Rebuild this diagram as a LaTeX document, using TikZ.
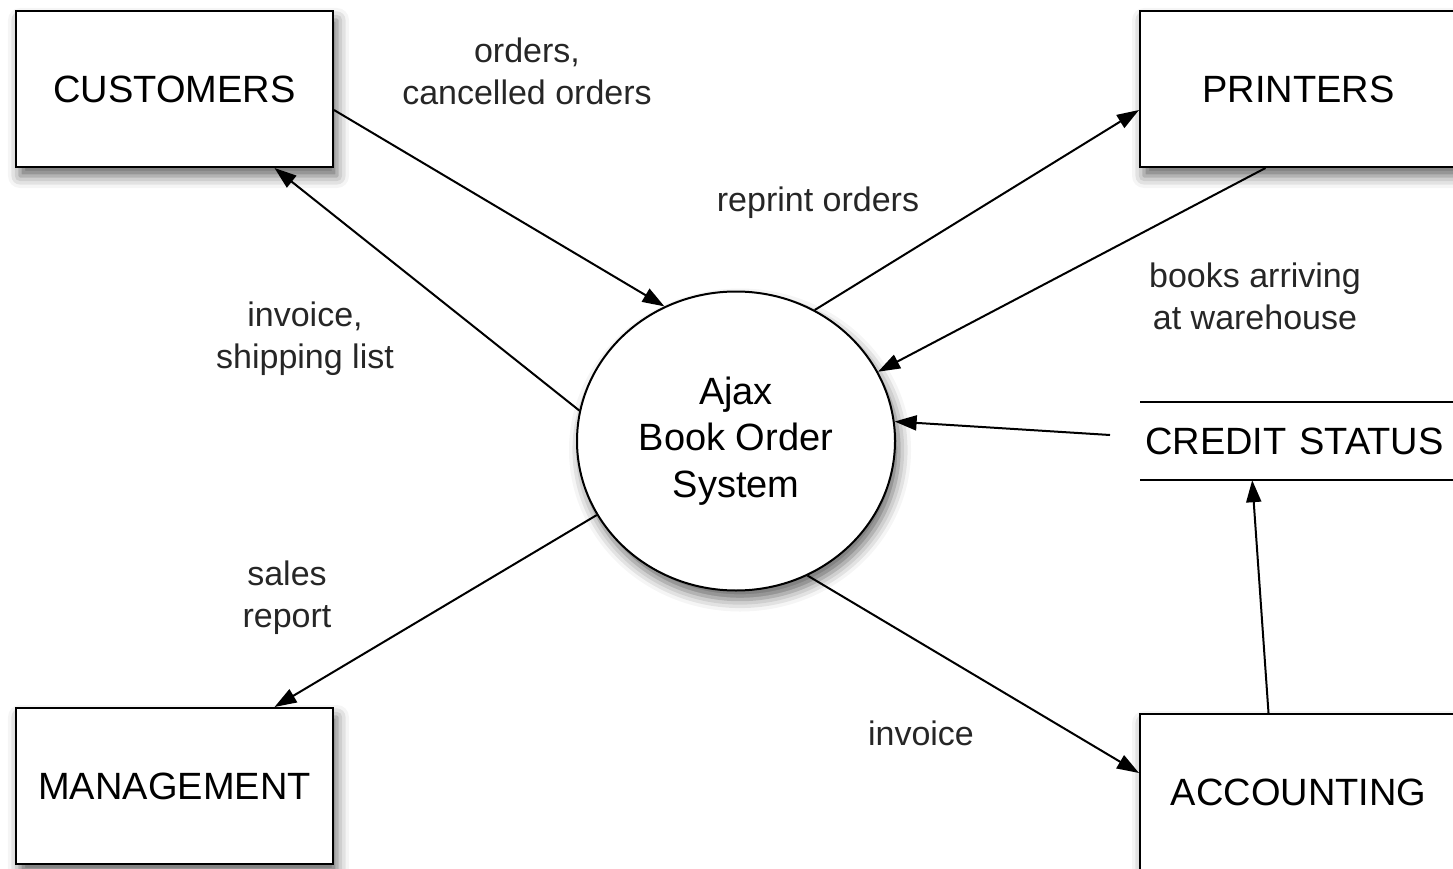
\documentclass[tikz,border=0pt]{standalone}
\usepackage{fontspec}
\setmainfont{Liberation Sans}
\usetikzlibrary{arrows.meta,shadows.blur,calc,shapes.geometric}
\begin{document}
\begin{tikzpicture}[x=1pt,y=-1pt,
  shad/.style={blur shadow={shadow xshift=4pt, shadow yshift=-9pt, shadow blur radius=12pt, shadow opacity=60}},
  entity/.style={draw, line width=2pt, fill=white, minimum width=317pt, minimum height=156pt,
    inner sep=0pt, font=\fontsize{38}{44}\selectfont, shad},
  proc/.style={draw, ellipse, line width=2pt, fill=white, minimum width=318pt, minimum height=299pt, inner sep=0pt,
    align=center, font=\fontsize{38}{46.5}\selectfont, shad},
  store/.style={minimum height=78pt, text width=310pt, inner xsep=5pt, inner ysep=0pt, align=left,
    font=\fontsize{38}{44}\selectfont},
  flow/.style={line width=2pt, -{Triangle[length=22pt,width=15pt]}},
  lbl/.style={font=\fontsize{34}{42}\selectfont, align=center, text=black!85}
]
\useasboundingbox (0,0) rectangle (1453,869);
\node[entity] (cust) at (174.5,89) {CUSTOMERS};
\node[entity] (prn) at (1298.5,89) {PRINTERS};
\node[entity] (mgmt) at (174.5,786) {MANAGEMENT};
\node[entity] (acct) at (1298.5,792) {ACCOUNTING};
\node[proc] (sys) at (736,441) {Ajax\\Book Order\\System};
\node[store, anchor=west] (cs) at (1140,441) {CREDIT STATUS};
\draw[line width=2pt] (cs.north west) -- (cs.north east);
\draw[line width=2pt] (cs.south west) -- (cs.south east);

\draw[flow] ($(cust.east)+(0,21)$) -- (sys.118);
\draw[flow] (sys.169) -- ($(cust.south)+(100,0)$);
\draw[flow] (sys.59) -- ($(prn.west)+(0,21)$);
\draw[flow] ($(prn.south)+(-33,0)$) -- (sys.26);
\draw[flow] ($(cs.west)+(-30,-6)$) -- (sys.7);
\draw[flow] (sys.208) -- ($(mgmt.north)+(100,0)$);
\draw[flow] (sys.298) -- ($(acct.west)+(0,-19)$);
\draw[flow] ($(acct.north)+(-30,0)$) -- ($(cs.south)+(-48,0)$);

\node[lbl] (l1) at (527,71) {orders,\\cancelled orders};
\node[lbl] (l2) at (305,339) {invoice,\\shipping list};
\node[lbl] (l3) at (818,203) {reprint orders};
\node[lbl] (l4) at (1255,296) {books arriving\\at warehouse};
\node[lbl] (l5) at (287,598) {sales\\report};
\node[lbl] (l6) at (921,733) {invoice};
\end{tikzpicture}
\end{document}
